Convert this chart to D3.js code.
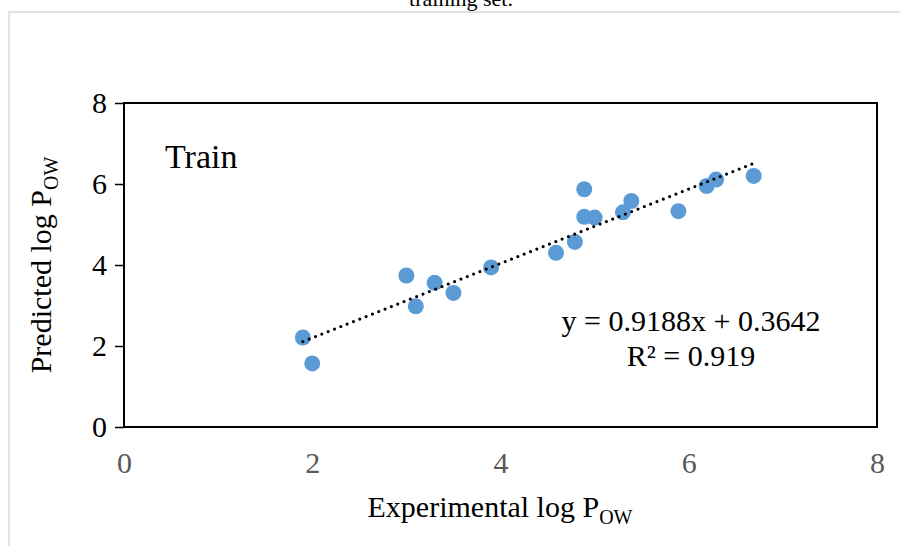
<!DOCTYPE html>
<html>
<head>
<meta charset="utf-8">
<script src="https://cdn.jsdelivr.net/npm/d3@7"></script>
<style>
  body { margin: 0; background: #fff; }
  svg text { font-family: "Liberation Serif", "Times New Roman", serif; }
</style>
</head>
<body>
<div class="chart"></div>
<script>
// experimental vs predicted log Pow, training set
const experimental = [1.90, 2.00, 3.00, 3.10, 3.30, 3.50, 3.90, 4.59, 4.79, 4.89, 4.89, 5.00, 5.30, 5.39, 5.89, 6.19, 6.29, 6.69];
const predicted    = [2.21, 1.57, 3.74, 2.98, 3.56, 3.31, 3.94, 4.30, 4.57, 5.87, 5.19, 5.17, 5.30, 5.58, 5.33, 5.95, 6.11, 6.20];
const xTicks = [0, 2, 4, 6, 8];
const yTicks = [0, 2, 4, 6, 8];
const slope = 0.9188;
const intercept = 0.3642;
const equationText = "y = 0.9188x + 0.3642";
const r2Text = "R² = 0.919";

const points = experimental.map((d, i) => ({x: d, y: predicted[i]}));

const width = 900;
const height = 546;
const margin = {top: 103, right: 23, bottom: 119, left: 124};

const svg = d3.select(".chart")
    .append("svg")
    .attr("width", width)
    .attr("height", height);

// outer chart frame (cut off at right and bottom)
svg.append("rect")
    .attr("x", 9)
    .attr("y", 12)
    .attr("width", width + 20)
    .attr("height", height + 20)
    .attr("fill", "#fff")
    .attr("stroke", "#d9d9d9")
    .attr("stroke-width", 1.5);

// caption above, partly cut off like the source
svg.append("text")
    .attr("x", 461)
    .attr("y", 6)
    .attr("text-anchor", "middle")
    .style("font-size", "22px")
    .text("training set.");

const x = d3.scaleLinear()
    .domain([0, 8])
    .range([margin.left, width - margin.right]);

const y = d3.scaleLinear()
    .domain([0, 8])
    .range([height - margin.bottom, margin.top]);

// plot box
svg.append("rect")
    .attr("x", x(0))
    .attr("y", y(8))
    .attr("width", x(8) - x(0))
    .attr("height", y(0) - y(8))
    .attr("fill", "none")
    .attr("stroke", "black")
    .attr("stroke-width", 2);

// y axis
const yAxis = svg.append("g")
    .attr("transform", `translate(${x(0)}, 0)`)
    .call(d3.axisLeft(y).tickValues(yTicks).tickSize(9).tickPadding(8).tickFormat(d3.format("d")));
yAxis.select(".domain").remove();
yAxis.selectAll("line").attr("stroke", "black").attr("stroke-width", 1.5);
yAxis.selectAll("text")
    .style("font-size", "30px")
    .style("font-family", "Liberation Serif, serif")
    .attr("fill", "black");

// x axis (labels only)
const xAxis = svg.append("g")
    .attr("transform", `translate(0, ${y(0)})`)
    .call(d3.axisBottom(x).tickValues(xTicks).tickSize(0).tickPadding(25).tickFormat(d3.format("d")));
xAxis.select(".domain").remove();
xAxis.selectAll("text")
    .style("font-size", "30px")
    .style("font-family", "Liberation Serif, serif")
    .attr("fill", "#595959");

// points
svg.append("g")
    .selectAll("circle")
    .data(points)
    .enter()
    .append("circle")
    .attr("cx", d => x(d.x))
    .attr("cy", d => y(d.y))
    .attr("r", 8)
    .attr("fill", "#5b9bd5");

// linear trendline, dotted
const xMin = d3.min(experimental);
const xMax = d3.max(experimental);
svg.append("line")
    .attr("x1", x(xMin))
    .attr("y1", y(slope * xMin + intercept))
    .attr("x2", x(xMax))
    .attr("y2", y(slope * xMax + intercept))
    .attr("stroke", "black")
    .attr("stroke-width", 3.2)
    .attr("stroke-linecap", "round")
    .attr("stroke-dasharray", "0,6.8");

// labels inside plot
svg.append("text")
    .attr("x", 165)
    .attr("y", 168)
    .style("font-size", "34px")
    .text("Train");

svg.append("text")
    .attr("x", 691)
    .attr("y", 331)
    .attr("text-anchor", "middle")
    .style("font-size", "30px")
    .text(equationText);

svg.append("text")
    .attr("x", 691)
    .attr("y", 366)
    .attr("text-anchor", "middle")
    .style("font-size", "30px")
    .text(r2Text);

// axis titles with subscript
const xTitle = svg.append("text")
    .attr("x", 500)
    .attr("y", 517)
    .attr("text-anchor", "middle")
    .style("font-size", "30px");
xTitle.append("tspan").text("Experimental log P");
xTitle.append("tspan").attr("dy", 7).style("font-size", "20px").text("OW");

const yTitle = svg.append("text")
    .attr("transform", `translate(51, ${(y(0) + y(8)) / 2}) rotate(-90)`)
    .attr("text-anchor", "middle")
    .style("font-size", "30px");
yTitle.append("tspan").text("Predicted log P");
yTitle.append("tspan").attr("dy", 7).style("font-size", "20px").text("OW");
</script>
</body>
</html>
